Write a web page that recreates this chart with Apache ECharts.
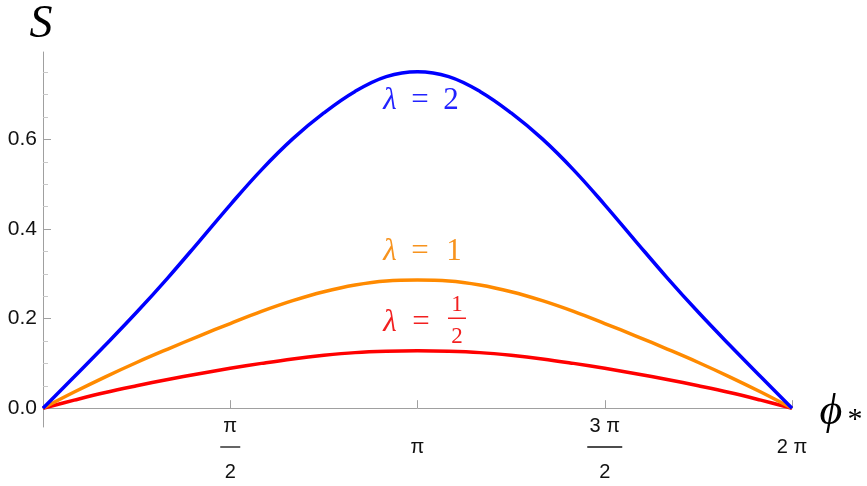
<!DOCTYPE html>
<html>
<head>
<meta charset="utf-8">
<script src="https://cdn.jsdelivr.net/npm/echarts@6/dist/echarts.min.js"></script>
<style>
html, body { margin: 0; background: #fff; }
#chart { width: 867px; height: 486px; }
</style>
</head>
<body>
<div id="chart"></div>
<script>
// phi in steps of pi/12, from 0 to 2 pi
var steps = [0, 1, 2, 3, 4, 5, 6, 7, 8, 9, 10, 11, 12, 13, 14, 15, 16, 17, 18, 19, 20, 21, 22, 23, 24];

// S for each lambda
var lambda2 = [0, 0.070, 0.141, 0.214, 0.291, 0.372, 0.454, 0.532, 0.601, 0.659, 0.707, 0.740, 0.751,
	0.740, 0.707, 0.659, 0.601, 0.532, 0.454, 0.372, 0.291, 0.214, 0.141, 0.070, 0];
var lambda1 = [0, 0.036, 0.070, 0.102, 0.132, 0.161, 0.189, 0.216, 0.240, 0.260, 0.275, 0.284, 0.286,
	0.284, 0.275, 0.260, 0.240, 0.216, 0.189, 0.161, 0.132, 0.102, 0.070, 0.036, 0];
var lambdaHalf = [0, 0.018, 0.035, 0.050, 0.064, 0.077, 0.089, 0.100, 0.110, 0.118, 0.124, 0.127, 0.128,
	0.127, 0.124, 0.118, 0.110, 0.100, 0.089, 0.077, 0.064, 0.050, 0.035, 0.018, 0];

// axis ticks (all labels share the same three-line layout)
var xTicks = [1, 2, 3, 4]; // multiples of pi/2
var xTickLabels = [
	'{t|π}\n{bar1| }\n{b|2}',
	'{t| }\n{s|π}\n{b| }',
	'{t|3 π}\n{bar3| }\n{b|2}',
	'{t| }\n{s|2 π}\n{b| }'
];
var yMajor = [0, 0.2, 0.4, 0.6];
var yMinor = [0.05, 0.1, 0.15, 0.25, 0.3, 0.35, 0.45, 0.5, 0.55, 0.65, 0.7, 0.75];

var axisGray = '#a0a0a0';
var sans = 'Liberation Sans';
var ink = '#111';

function pairs(arr) {
	var out = [];
	for (var i = 0; i < steps.length; i++) {
		out.push([steps[i] * Math.PI / 12, arr[i]]);
	}
	return out;
}

function curve(name, color, arr) {
	return {
		name: name,
		type: 'line',
		data: pairs(arr),
		showSymbol: false,
		smooth: 0.4,
		silent: true,
		lineStyle: { color: color, width: 3.5 }
	};
}

function label(x, y, text, color, size, italic) {
	return {
		type: 'text', x: x, y: y,
		style: {
			text: text,
			font: (italic ? 'italic ' : '') + size + 'px "Liberation Serif"',
			fill: color, align: 'center', verticalAlign: 'middle'
		}
	};
}

var chart = echarts.init(document.getElementById('chart'));

var tickFont = { fontFamily: sans, fontSize: 20, color: ink, align: 'center' };

var option = {
	animation: false,
	backgroundColor: '#fff',
	grid: { left: 43, right: 75, top: 52, bottom: 59, containLabel: false, outerBoundsMode: 'none' },
	xAxis: {
		type: 'value',
		min: 0,
		max: 2 * Math.PI,
		axisLine: { onZero: true, lineStyle: { color: axisGray, width: 1 } },
		axisTick: {
			show: true,
			inside: true,
			length: 8,
			customValues: xTicks.map(function(t) { return t * Math.PI / 2; }),
			lineStyle: { color: axisGray }
		},
		axisLabel: {
			customValues: xTicks.map(function(t) { return t * Math.PI / 2; }),
			formatter: function(v) {
				for (var i = 0; i < xTicks.length; i++) {
					if (Math.abs(xTicks[i] * Math.PI / 2 - v) < 1e-6) return xTickLabels[i];
				}
				return '';
			},
			verticalAlign: 'middle',
			align: 'center',
			margin: 24,
			color: ink,
			rich: {
				t: Object.assign({ lineHeight: 24 }, tickFont),
				s: Object.assign({ lineHeight: 18 }, tickFont),
				b: Object.assign({ lineHeight: 32 }, tickFont),
				bar1: { width: 20, height: 1.3, lineHeight: 18, backgroundColor: ink, align: 'center', fontSize: 2 },
				bar3: { width: 35, height: 1.3, lineHeight: 18, backgroundColor: ink, align: 'center', fontSize: 2 }
			}
		},
		splitLine: { show: false }
	},
	yAxis: [{
		type: 'value',
		min: -0.042,
		max: 0.795,
		axisLine: { show: true, onZero: false, lineStyle: { color: axisGray, width: 1 } },
		axisTick: {
			show: true,
			inside: true,
			length: 8,
			customValues: yMajor,
			lineStyle: { color: axisGray }
		},
		axisLabel: {
			customValues: yMajor,
			formatter: function(v) { return v.toFixed(1); },
			fontFamily: sans,
			fontSize: 21,
			color: ink,
			margin: 6
		},
		splitLine: { show: false }
	}, {
		type: 'value',
		position: 'left',
		offset: 0,
		min: -0.042,
		max: 0.795,
		axisLine: { show: false },
		axisTick: {
			show: true,
			inside: true,
			length: 5,
			customValues: yMinor,
			lineStyle: { color: '#c8c8c8' }
		},
		axisLabel: { show: false },
		splitLine: { show: false }
	}],
	series: [
		curve('λ = 1/2', '#ff0000', lambdaHalf),
		curve('λ = 1', '#ff8a00', lambda1),
		curve('λ = 2', '#0000ff', lambda2)
	],
	graphic: [
		// axis names
		label(41, 25, 'S', '#000', 46, true),
		label(831, 412, '\u03d5', '#000', 44, true),
		label(855, 420, '*', '#000', 30, false),
		// curve labels
		label(390, 101, 'λ', '#2222ff', 31, true),
		label(420, 101, '=', '#2222ff', 31, false),
		label(451, 101, '2', '#2222ff', 31, false),
		label(390, 252, 'λ', '#f7931e', 31, true),
		label(420, 252, '=', '#f7931e', 31, false),
		label(454, 252, '1', '#f7931e', 31, false),
		label(390, 323, 'λ', '#f22020', 31, true),
		label(421, 323, '=', '#f22020', 31, false),
		label(457, 305, '1', '#f22020', 23, false),
		{ type: 'rect', shape: { x: 448, y: 317.5, width: 18, height: 1.5 }, style: { fill: '#f22020' } },
		label(457, 337, '2', '#f22020', 23, false)
	]
};

chart.setOption(option);
</script>
</body>
</html>
